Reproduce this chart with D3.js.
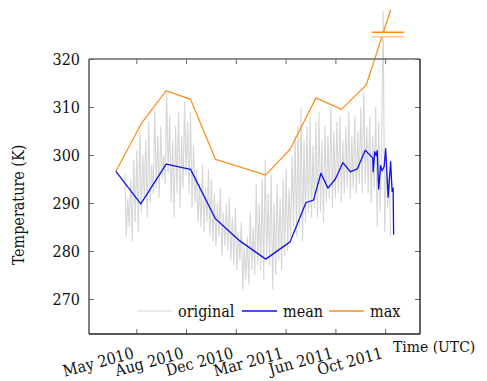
<!DOCTYPE html>
<html>
<head>
<meta charset="utf-8">
<script src="https://cdn.jsdelivr.net/npm/d3@7"></script>
<style>
  body { margin: 0; background: #fff; }
  svg { display: block; }
</style>
</head>
<body>
<svg id="chart" width="487" height="381"></svg>
<script>
// ---------------- data ----------------
const xDomain = ["2010-02-14", "2011-12-11"];
const yDomain = [262.7, 320];
const yTicks = [270, 280, 290, 300, 310, 320];
const xTickDates = ["2010-05-20", "2010-08-28", "2010-12-06", "2011-03-16", "2011-06-24", "2011-10-02"];

// original series: one reading every 3 days starting 2010-04-27
const originalStart = "2010-04-27";
const originalStepDays = 3;
const originalValues = [
  296, 283, 291, 285, 295, 282, 299, 286, 301, 284,
  305, 288, 300, 291, 303, 287, 307, 290, 298, 292,
  309, 293, 304, 291, 306, 295, 300, 294, 313, 296,
  308, 290, 303, 287, 306, 292, 309, 289, 304, 293,
  311, 296, 307, 292, 309, 289, 302, 290, 297, 286,
  294, 285, 298, 284, 293, 286, 297, 283, 295, 282,
  292, 281, 290, 283, 293, 279, 288, 281, 290, 280,
  291, 278, 287, 277, 289, 276, 284, 278, 286, 272,
  281, 274, 283, 273, 288, 276, 285, 275, 294, 277,
  290, 276, 295, 274, 299, 278, 292, 277, 296, 272,
  290, 275, 294, 278, 291, 276, 295, 279, 297, 280,
  293, 283, 300, 285, 304, 283, 306, 285, 310, 282,
  303, 286, 306, 288, 308, 287, 302, 289, 307, 287,
  309, 288, 303, 286, 306, 290, 304, 291, 310, 289,
  305, 291, 307, 292, 308, 290, 303, 292, 306, 293,
  309, 291, 304, 293, 308, 292, 305, 294, 310, 292,
  313, 294, 306, 292, 308, 290, 304, 293, 310, 285,
  307, 288, 303, 330, 284, 298, 289, 296, 283
];

const meanDates = [
  "2010-04-09", "2010-05-29", "2010-07-19", "2010-09-06", "2010-10-26",
  "2010-12-14", "2011-02-04", "2011-03-25", "2011-04-26", "2011-05-11",
  "2011-05-26", "2011-06-09", "2011-06-24", "2011-07-09", "2011-07-24",
  "2011-08-07", "2011-08-23", "2011-09-07", "2011-09-08", "2011-09-11",
  "2011-09-14", "2011-09-16", "2011-09-19", "2011-09-23", "2011-09-26",
  "2011-09-30", "2011-10-03", "2011-10-08", "2011-10-13", "2011-10-16",
  "2011-10-18", "2011-10-19"
];
const meanValues = [
  296.6, 289.8, 298.1, 297.0, 286.7,
  282.1, 278.3, 281.9, 290.1, 290.6,
  296.2, 293.1, 295.0, 298.4, 296.5,
  297.1, 301.0, 299.4, 296.5, 300.7,
  299.9, 300.9, 292.9, 297.8, 296.7,
  297.6, 301.3, 291.2, 298.6, 292.4,
  293.1, 283.4
];

const maxDates = [
  "2010-04-09", "2010-05-31", "2010-07-19", "2010-09-06", "2010-10-26",
  "2011-02-04", "2011-03-25", "2011-05-16", "2011-07-06", "2011-08-25",
  "2011-10-13"
];
const maxValues = [296.6, 306.7, 313.4, 311.6, 299.1, 295.8, 301.2, 311.9, 309.5, 314.6, 330.2];

const legendLabels = ["original", "mean", "max"];
const colors = { original: "#d6d6d6", mean: "#1010ee", max: "#ff8a12" };

// ---------------- layout ----------------
const FONT = "'DejaVu Serif Condensed', 'DejaVu Serif', serif";
const parse = d3.utcParse("%Y-%m-%d");
const m = { left: 89, right: 420, top: 59, bottom: 334 };
const svg = d3.select("#chart");

const x = d3.scaleUtc().domain(xDomain.map(parse)).range([m.left, m.right]);
const y = d3.scaleLinear().domain(yDomain).range([m.bottom, m.top]);

const origData = originalValues.map((v, i) => ({
  d: d3.utcDay.offset(parse(originalStart), i * originalStepDays), v
}));
const meanData = meanDates.map((d, i) => ({ d: parse(d), v: meanValues[i] }));
const maxData = maxDates.map((d, i) => ({ d: parse(d), v: maxValues[i] }));

const line = d3.line().x(p => x(p.d)).y(p => y(p.v));

// series
svg.append("path").datum(origData).attr("d", line)
  .attr("fill", "none").attr("stroke", colors.original).attr("stroke-width", 1.1);
svg.append("path").datum(maxData).attr("d", line)
  .attr("fill", "none").attr("stroke", colors.max).attr("stroke-width", 1.2);
svg.append("path").datum(meanData).attr("d", line)
  .attr("fill", "none").attr("stroke", colors.mean).attr("stroke-width", 1.3)
  .attr("stroke-linejoin", "round");

// axis break marker on the max line
const bx = x(parse("2011-10-05"));
svg.append("rect").attr("x", bx - 15).attr("y", 32).attr("width", 32).attr("height", 5).attr("fill", "#fff");
svg.append("line").attr("x1", bx - 15).attr("x2", bx + 17).attr("y1", 32.3).attr("y2", 32.3)
  .attr("stroke", colors.max).attr("stroke-width", 1.6);
svg.append("line").attr("x1", bx - 15).attr("x2", bx + 17).attr("y1", 36.7).attr("y2", 36.7)
  .attr("stroke", "#ffc891").attr("stroke-width", 1.6);

// axes with inward ticks
const tickColor = "#666";
const xTicks = xTickDates.map(parse);
const fmt = d3.utcFormat("%b %Y");

const gB = svg.append("g").attr("transform", `translate(0,${m.bottom})`)
  .call(d3.axisBottom(x).tickValues(xTicks).tickSizeInner(-5).tickSizeOuter(0).tickFormat(fmt));
gB.select(".domain").remove();
gB.selectAll(".tick line").attr("stroke", tickColor);
gB.selectAll(".tick text")
  .attr("font-size", 16).attr("fill", "#111")
  .attr("text-anchor", "end").attr("dy", null).attr("y", null)
  .attr("transform", "translate(-2,24) rotate(-15)");

const gT = svg.append("g").attr("transform", `translate(0,${m.top})`)
  .call(d3.axisTop(x).tickValues(xTicks).tickSizeInner(-5).tickSizeOuter(0).tickFormat(""));
gT.select(".domain").remove();
gT.selectAll(".tick line").attr("stroke", tickColor);

const gL = svg.append("g").attr("transform", `translate(${m.left},0)`)
  .call(d3.axisLeft(y).tickValues(yTicks).tickSizeInner(-5).tickSizeOuter(0).tickPadding(9));
gL.select(".domain").remove();
gL.selectAll(".tick line").attr("stroke", tickColor);
gL.selectAll(".tick text").attr("font-size", 16).attr("fill", "#111");

const gR = svg.append("g").attr("transform", `translate(${m.right},0)`)
  .call(d3.axisRight(y).tickValues(yTicks).tickSizeInner(-5).tickSizeOuter(0).tickFormat(""));
gR.select(".domain").remove();
gR.selectAll(".tick line").attr("stroke", tickColor);

// frame
svg.append("line").attr("x1", m.left).attr("x2", m.right).attr("y1", m.top).attr("y2", m.top)
  .attr("stroke", "#6a6a6a").attr("stroke-width", 1.6);
svg.append("line").attr("x1", m.left).attr("x2", m.left).attr("y1", m.top).attr("y2", m.bottom)
  .attr("stroke", "#555").attr("stroke-width", 1.5);
svg.append("line").attr("x1", m.left).attr("x2", m.right).attr("y1", m.bottom).attr("y2", m.bottom)
  .attr("stroke", "#222").attr("stroke-width", 1.4);
svg.append("line").attr("x1", m.right).attr("x2", m.right).attr("y1", m.top).attr("y2", m.bottom)
  .attr("stroke", "#222").attr("stroke-width", 1.4);

// axis titles
svg.append("text").attr("transform", "translate(24,205) rotate(-90)")
  .attr("text-anchor", "middle").attr("font-size", 16).attr("fill", "#111")
  .text("Temperature (K)");
svg.append("text").attr("x", 393).attr("y", 352)
  .attr("font-size", 15.5).attr("fill", "#111").text("Time (UTC)");

// legend
const legend = svg.append("g").attr("transform", "translate(137,311)");
const legendOffsets = [0, 105, 192];
const legendKeys = ["original", "mean", "max"];
legendKeys.forEach((k, i) => {
  const g = legend.append("g").attr("transform", `translate(${legendOffsets[i]},0)`);
  g.append("line").attr("x1", 0).attr("x2", 35).attr("y1", 0).attr("y2", 0)
    .attr("stroke", colors[k]).attr("stroke-width", k === "original" ? 1 : 1.3);
  g.append("text").attr("x", 41).attr("y", 5.5).attr("font-size", 16).attr("fill", "#111")
    .text(legendLabels[i]);
});

// apply the serif font to every text directly
svg.selectAll("g").attr("font-family", null);
svg.selectAll("text").attr("font-family", FONT).style("font-family", FONT);
</script>
</body>
</html>
